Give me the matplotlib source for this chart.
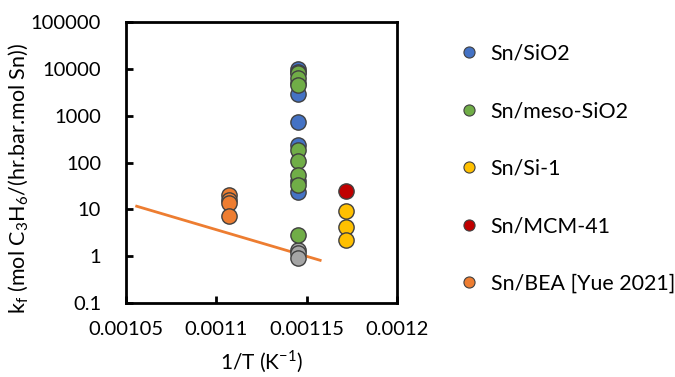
import matplotlib
matplotlib.use("Agg")
import matplotlib.pyplot as plt
import numpy as np

plt.rcParams['font.family'] = ['Lato', 'DejaVu Sans']

# 1/T positions for each catalyst group
x_bea = 0.001107
x_col = 0.001145
x_si1 = 0.001172

# rate constants read per series
kf_sio2 = [10000, 8500, 5000, 2900, 750, 240, 40, 24]
kf_meso = [8000, 6500, 4500, 190, 110, 54, 34, 2.8]
kf_si1 = [9.2, 4.3, 2.26]
kf_mcm = [24.5]
kf_bea = [20.6, 15.5, 13.5, 7.1]
kf_grey = [1.34, 1.15, 0.9]

# Arrhenius fit line for Sn/BEA
fit_x = [0.0010559, 0.0011575]
fit_y = [11.7, 0.82]

fig = plt.figure(figsize=(6.75, 3.77), dpi=100)
ax = fig.add_axes([0.1867, 0.196, 0.4013, 0.7456])

ax.plot(fit_x, fit_y, color='#ED7D31', lw=2, zorder=2)

mk = dict(marker='o', ms=11, mec='#404040', mew=1.0, ls='none', zorder=3)
ax.plot([x_col] * len(kf_grey), kf_grey, mfc='#A5A5A5', **mk)
ax.plot([x_bea] * len(kf_bea), kf_bea, mfc='#ED7D31', **mk)
ax.plot([x_col] * len(kf_sio2), kf_sio2, mfc='#4472C4', **mk)
ax.plot([x_col] * len(kf_meso), kf_meso, mfc='#70AD47', **mk)
ax.plot([x_si1] * len(kf_si1), kf_si1, mfc='#FFC000', **mk)
ax.plot([x_si1] * len(kf_mcm), kf_mcm, mfc='#C00000', **mk)

ax.set_yscale('log')
ax.set_ylim(0.1, 100000)
ax.set_xlim(0.00105, 0.0012)
ax.set_xticks([0.00105, 0.0011, 0.00115, 0.0012])
ax.set_xticklabels(['0.00105', '0.0011', '0.00115', '0.0012'])
ax.set_yticks([0.1, 1, 10, 100, 1000, 10000, 100000])
ax.set_yticklabels(['0.1', '1', '10', '100', '1000', '10000', '100000'])
ax.minorticks_off()
ax.tick_params(direction='in', length=5, width=2, labelsize=14.5, colors='black')
ax.tick_params(axis='x', pad=13)
ax.tick_params(axis='y', pad=18)
for s in ax.spines.values():
    s.set_linewidth(2)

ax.set_ylabel('k$_\\mathregular{f}$ (mol C$_\\mathregular{3}$H$_\\mathregular{6}$/(hr.bar.mol Sn))', fontsize=15.5)
ax.yaxis.set_label_coords(-0.35, 0.445)
ax.set_xlabel('1/T (K$^{\\mathregular{-1}}$)', fontsize=15, labelpad=8)

labels = ['Sn/SiO2', 'Sn/meso-SiO2', 'Sn/Si-1', 'Sn/MCM-41', 'Sn/BEA [Yue 2021]']
colors = ['#4472C4', '#70AD47', '#FFC000', '#C00000', '#ED7D31']
handles = [plt.Line2D([], [], marker='o', ms=8, mfc=c, mec='#404040', mew=0.8, ls='none')
           for c in colors]
fig.legend(handles, labels, loc='upper left', bbox_to_anchor=(0.6627, 0.912),
           frameon=False, fontsize=15.4, labelspacing=1.75, handletextpad=0.53,
           handlelength=1.0, borderpad=0)

fig.savefig('out.png', dpi=100)
